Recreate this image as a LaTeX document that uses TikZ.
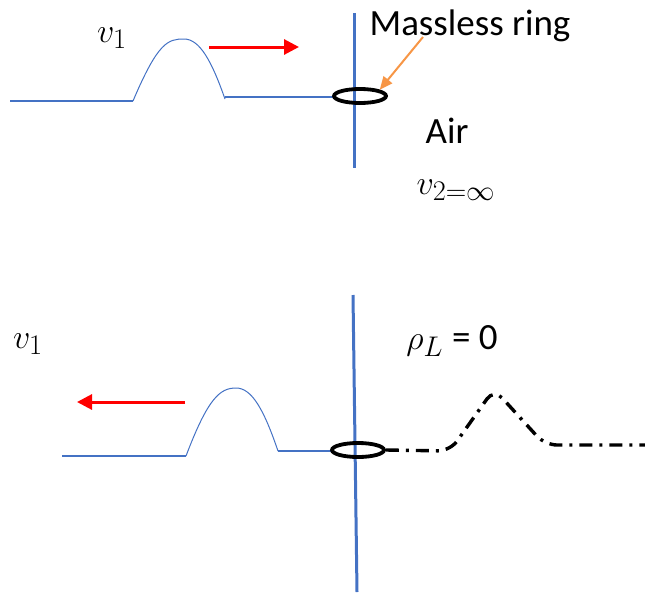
\documentclass[tikz,border=0pt]{standalone}
\usepackage{graphicx}
\usepackage{fontspec}
\newfontfamily\calfont{Carlito}
\usetikzlibrary{arrows.meta,shapes.geometric}
\definecolor{wblue}{RGB}{68,114,196}
\definecolor{worange}{RGB}{247,150,70}
\newcommand{\bigmath}[1]{\scalebox{1.37}{\fontsize{24.88}{30}\selectfont$#1$}}
\tikzset{
  wall/.style={wblue,line width=3pt},
  stringline/.style={wblue,line width=1.6pt},
  pulse/.style={wblue,line width=1pt},
  ringshape/.style={ellipse,draw=black,line width=3.8pt,minimum width=52pt,minimum height=14pt,inner sep=0pt},
  redarrow/.style={red,line width=3pt,-{Triangle[length=15pt,width=15pt]}},
  orangearrow/.style={worange,line width=2pt,-{Triangle[length=13pt,width=11pt]}},
  txt/.style={font=\calfont\fontsize{37}{42}\selectfont,inner sep=0pt},
  mathtxt/.style={inner sep=0pt},
  dashdot/.style={black,line width=3.4pt,dash pattern=on 13pt off 7pt on 3pt off 7pt,rounded corners=12pt}
}
\begin{document}
\begin{tikzpicture}[x=1pt,y=-1pt]
\useasboundingbox (0,0) rectangle (645,592);
% ---------- top ----------
\draw[wall] (354,13) -- (354,168);
\draw[stringline] (10,101) -- (133,101);
\draw[pulse] (133,101) .. controls (158,42) and (168,39) .. (184,39) .. controls (200,39) and (212,62) .. (225,99);
\draw[stringline] (225,97) -- (334,97);
\node[ringshape] (ring1) at (360,96) {};
\node[mathtxt] (v1a) at (112,38) {\bigmath{v_1}};
\coordinate (ra1) at (209,47);
\coordinate (ra2) at (299,47);
\draw[redarrow] (ra1) -- (ra2);
\node[txt] (mass) at (470,26) {Massless ring};
\coordinate (oa1) at (423,37);
\draw[orangearrow] (oa1) -- (ring1.north east);
\node[txt] (air) at (447,131) {Air};
\node[mathtxt] (v2) at (456,190) {\bigmath{v_{2=\infty}}};
% ---------- bottom ----------
\draw[wall] (353,295) -- (357,592);
\draw[stringline] (62,456) -- (186,456);
\draw[pulse] (186,456) .. controls (208,398) and (220,388) .. (236,388) .. controls (252,388) and (264,410) .. (278,451);
\draw[stringline] (278,451) -- (333,451);
\node[ringshape] (ring2) at (358,450) {};
\draw[dashdot] (ring2.east) -- (450,451) -- (494,389) -- (545,445) -- (645,445);
\coordinate (rb1) at (185,402);
\coordinate (rb2) at (77,402);
\draw[redarrow] (rb1) -- (rb2);
\node[mathtxt] (v1b) at (28,344) {\bigmath{v_1}};
\node[inner sep=0pt] (rho) at (452,341) {\bigmath{\rho_L}\hspace{9pt}{\calfont\fontsize{37}{42}\selectfont = 0}};
\end{tikzpicture}
\end{document}
